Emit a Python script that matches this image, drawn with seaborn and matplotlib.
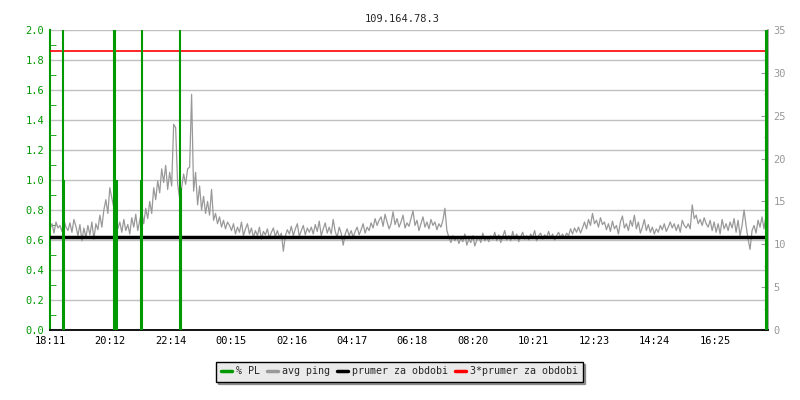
import numpy as np
import pandas as pd
import matplotlib
matplotlib.use("Agg")
import matplotlib.pyplot as plt
from matplotlib.lines import Line2D
from matplotlib.ticker import MultipleLocator
import seaborn as sns

# chart data
title = "109.164.78.3"
tick_labels = ["18:11", "20:12", "22:14", "00:15", "02:16", "04:17",
               "06:18", "08:20", "10:21", "12:23", "14:24", "16:25"]

# avg ping in ms, one value every 4 minutes starting at 18:11
ping_ms = [
    11.8, 12.4, 11.3, 12.6, 11.9, 12.2, 11.5, 12.8, 12.0, 11.6,
    12.5, 11.4, 12.9, 12.1, 11.0, 12.3, 10.4, 11.9, 10.8, 12.2,
    11.1, 12.6, 10.6, 12.4, 11.7, 13.4, 12.0, 14.0, 15.2, 13.6,
    16.6, 15.4, 14.3, 12.2, 11.8, 12.6, 11.4, 12.9, 11.6, 12.3,
    11.2, 13.1, 12.0, 13.5, 11.6, 12.8, 13.9, 12.4, 14.2, 13.0,
    15.0, 13.6, 16.6, 15.2, 17.4, 16.0, 18.8, 17.2, 19.2, 16.4,
    18.4, 16.8, 24.0, 23.6, 17.0, 15.4, 16.6, 18.2, 17.0, 18.8,
    19.0, 27.5, 16.2, 18.4, 14.6, 16.8, 14.0, 15.6, 13.6, 15.0,
    13.4, 16.4, 12.8, 13.6, 12.4, 13.2, 12.0, 12.8, 11.8, 12.6,
    12.2, 11.6, 12.4, 11.2, 12.0, 11.4, 12.6, 11.0, 11.8, 12.4,
    11.2, 11.9, 10.8, 11.6, 11.0, 12.0, 10.6, 11.5, 11.1, 11.8,
    10.7, 11.4, 11.9, 10.9, 11.6, 10.8, 11.3, 9.2, 11.0, 11.7,
    11.2, 12.1, 11.0, 11.8, 12.4, 10.9, 11.6, 12.2, 11.1, 11.9,
    11.4, 12.0, 11.2, 12.3, 11.5, 12.7, 11.0, 11.8, 12.5, 11.3,
    12.0, 11.2, 12.9, 11.5, 10.8, 12.0, 11.3, 9.9, 11.2, 11.8,
    11.0, 11.6, 10.8, 11.5, 12.0, 11.1, 11.7, 12.4, 11.3, 12.0,
    11.6, 12.5, 11.9, 13.0, 12.2, 12.8, 13.2, 12.1, 13.5, 12.6,
    11.8, 12.4, 13.8, 12.3, 13.0, 12.0, 12.6, 13.4, 11.9, 12.5,
    12.1, 13.0, 13.9, 12.2, 12.8, 11.6, 12.4, 13.2, 12.0, 12.6,
    11.8, 12.9, 12.2, 12.6, 11.7, 12.4, 12.0, 12.8, 14.2, 11.6,
    10.8, 10.2, 11.0, 10.4, 10.9, 10.1, 10.7, 10.3, 11.2, 9.9,
    10.6, 10.2, 11.0, 9.8, 10.5, 10.9, 10.2, 11.3, 10.4, 10.8,
    10.3, 11.0, 10.6, 11.4, 10.4, 11.1, 10.2, 10.9, 11.6, 10.5,
    11.0, 10.4, 11.5, 10.6, 11.2, 10.3, 10.9, 11.4, 10.6, 11.0,
    10.5, 11.2, 10.8, 11.6, 10.4, 11.0, 11.3, 10.6, 11.1, 10.8,
    11.5, 10.7, 11.2, 10.5, 11.0, 11.4, 10.8, 11.2, 10.7, 11.3,
    11.0, 11.8, 11.2, 11.9, 11.4, 12.0, 11.3, 11.9, 12.6, 11.8,
    12.9, 12.2, 13.6, 12.4, 12.8, 12.0, 13.1, 12.3, 12.6, 11.7,
    12.4, 11.5, 12.7, 11.8, 12.2, 11.2, 12.6, 13.3, 11.9, 12.4,
    11.6, 12.8, 12.1, 13.4, 11.8, 12.6, 11.3, 12.0, 12.9, 11.6,
    12.3, 11.4, 12.0, 11.2, 11.8, 11.4, 12.2, 11.7, 12.4, 11.5,
    12.0, 12.6, 11.9, 12.4, 11.6, 12.3, 11.4, 12.8, 12.2, 11.9,
    12.4, 11.8, 14.6, 13.0, 13.4, 12.4, 12.9, 12.2, 13.1, 12.4,
    12.0, 12.8, 11.6, 12.6, 11.4, 12.4, 11.2, 12.9, 11.8, 12.4,
    11.6, 12.6, 11.9, 13.0, 11.4, 12.8, 11.0, 12.2, 14.0, 12.2,
    10.6, 9.4, 11.6, 12.2, 11.3, 12.8, 12.0, 13.2, 11.8, 13.4,
]
sample_step_min = 4

# packet loss spikes: minutes after 18:11 and value on the left scale
pl_minutes = [26, 29, 128, 131, 134, 183, 185, 260, 262, 1436, 1439]
pl_values = [2.0, 1.0, 2.0, 2.0, 1.0, 1.0, 2.0, 2.0, 0.95, 2.0, 2.0]

prumer_ms = 10.85
ms_per_unit = 17.5  # 35 ms on the right axis = 2.0 on the left axis

green = "#009900"
gray = "#999999"

sns.set_style("white")
plt.rcParams["font.family"] = ["DejaVu Sans Mono"]
plt.rcParams["font.size"] = 7.2

fig = plt.figure(figsize=(8, 4), dpi=100)
ax = fig.add_axes([50 / 800, 70 / 400, 718 / 800, 300 / 400])

df = pd.DataFrame({
    "minute": np.arange(len(ping_ms)) * sample_step_min,
    "ping": np.array(ping_ms) / ms_per_unit,
})
sns.lineplot(data=df, x="minute", y="ping", ax=ax, color=gray, lw=0.9, zorder=2)
ax.axhline(prumer_ms / ms_per_unit, color="black", lw=2.5, zorder=3)
ax.axhline(3 * prumer_ms / ms_per_unit, color="red", lw=1.2, zorder=3)
ax.vlines(pl_minutes, 0, pl_values, color=green, lw=1.5, zorder=4)

# x axis
def to_minutes(s):
    h, m = map(int, s.split(":"))
    return ((h * 60 + m) - (18 * 60 + 11)) % 1440

ax.set_xlim(0, 1440)
ax.set_xticks([to_minutes(t) for t in tick_labels], tick_labels)
ax.tick_params(axis="x", direction="in", length=5, color="black", pad=4,
               labelcolor="black", labelsize=7.5)
ax.set_xlabel("")
ax.set_ylabel("")

# left axis (% PL)
ax.set_ylim(0, 2.0)
ax.set_yticks(np.arange(0, 2.01, 0.2), [f"{v:.1f}" for v in np.arange(0, 2.01, 0.2)])
ax.yaxis.set_minor_locator(MultipleLocator(0.1))
ax.tick_params(axis="y", which="both", direction="in", color=green,
               labelcolor=green, labelsize=7.5, pad=4)
ax.tick_params(axis="y", which="major", length=5)
ax.tick_params(axis="y", which="minor", length=4, left=True)
ax.yaxis.grid(True, color="#c0c0c0", lw=1)
ax.xaxis.grid(False)
ax.set_axisbelow(True)

ax.spines["left"].set_color(green)
ax.spines["left"].set_linewidth(1.5)
ax.spines["bottom"].set_color("black")
ax.spines["bottom"].set_linewidth(1.3)
ax.spines["top"].set_visible(False)
ax.spines["right"].set_visible(False)

# right axis (ping in ms)
sec = ax.secondary_yaxis("right", functions=(lambda v: v * ms_per_unit,
                                              lambda v: v / ms_per_unit))
sec.set_yticks(range(0, 36, 5))
sec.yaxis.set_minor_locator(MultipleLocator(2.5))
sec.tick_params(which="both", direction="in", color=gray, labelcolor=gray,
                labelsize=7.5, pad=4)
sec.tick_params(which="major", length=5)
sec.tick_params(which="minor", length=3)
sec.spines["right"].set_color(gray)
sec.spines["right"].set_linewidth(1.2)

fig.text(0.503, 0.965, title, ha="center", va="top", fontsize=7.5)

handles = [
    Line2D([], [], color=green, lw=2.5),
    Line2D([], [], color=gray, lw=2.5),
    Line2D([], [], color="black", lw=2.5),
    Line2D([], [], color="red", lw=2.5),
]
labels = ["% PL", "avg ping", "prumer za obdobi", "3*prumer za obdobi"]
leg = fig.legend(handles, labels, loc="center", bbox_to_anchor=(399 / 800, 1 - 371.5 / 400),
                 ncol=4, frameon=True, fancybox=False, shadow=True,
                 facecolor="#eaeaea", edgecolor="black", framealpha=1,
                 handlelength=1.1, handletextpad=0.4, columnspacing=0.7,
                 borderpad=0.5, fontsize=7.2)
leg.get_frame().set_linewidth(1.0)

fig.savefig("out.png", dpi=100)
